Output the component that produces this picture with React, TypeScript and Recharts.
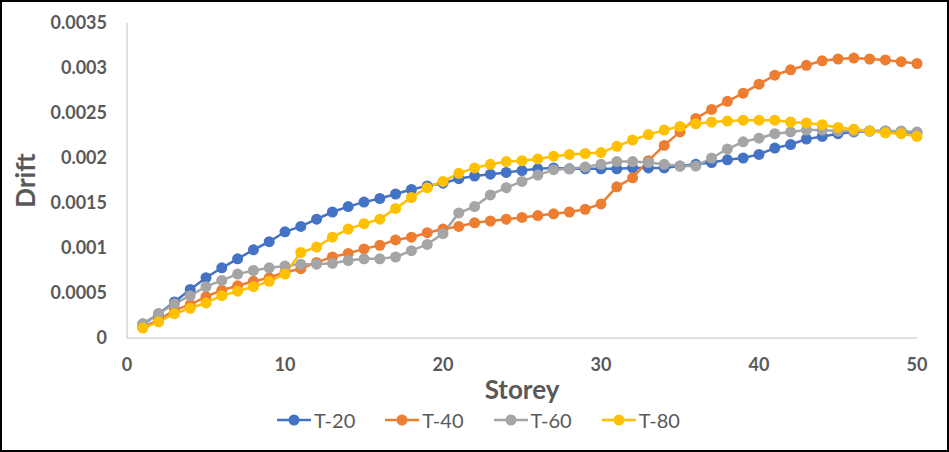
import { Label, Legend, Line, LineChart, XAxis, YAxis } from 'recharts'

// storey numbers 1..50
const storeys = [
    1, 2, 3, 4, 5, 6, 7, 8, 9, 10, 11, 12, 13, 14, 15, 16, 17, 18, 19, 20, 21, 22, 23, 24, 25,
    26, 27, 28, 29, 30, 31, 32, 33, 34, 35, 36, 37, 38, 39, 40, 41, 42, 43, 44, 45, 46, 47, 48, 49, 50,
]

const t20 = [
    0.00015, 0.00027, 0.0004, 0.00054, 0.00067, 0.00078, 0.00088, 0.00098, 0.00107, 0.00118,
    0.00124, 0.00132, 0.0014, 0.00146, 0.00151, 0.00155, 0.0016, 0.00165, 0.00169, 0.00172,
    0.00177, 0.0018, 0.00182, 0.00184, 0.00186, 0.00188, 0.00189, 0.00188, 0.00188, 0.00188,
    0.00188, 0.00189, 0.00189, 0.00189, 0.00191, 0.00193, 0.00195, 0.00198, 0.002, 0.00204,
    0.00211, 0.00215, 0.00221, 0.00224, 0.00227, 0.00229, 0.0023, 0.0023, 0.00229, 0.00228,
]

const t40 = [
    0.00012, 0.0002, 0.00031, 0.00037, 0.00046, 0.00053, 0.00058, 0.00063, 0.00067, 0.00073,
    0.00077, 0.00084, 0.0009, 0.00094, 0.00099, 0.00103, 0.00109, 0.00112, 0.00117, 0.00121,
    0.00124, 0.00128, 0.0013, 0.00132, 0.00134, 0.00136, 0.00138, 0.0014, 0.00143, 0.00149,
    0.00168, 0.00178, 0.00197, 0.00214, 0.00229, 0.00244, 0.00254, 0.00263, 0.00272, 0.00282,
    0.00292, 0.00298, 0.00303, 0.00308, 0.0031, 0.00311, 0.0031, 0.00309, 0.00307, 0.00305,
]

const t60 = [
    0.00016, 0.00027, 0.00038, 0.00047, 0.00057, 0.00064, 0.00071, 0.00075, 0.00078, 0.0008,
    0.00082, 0.00082, 0.00083, 0.00086, 0.00088, 0.00088, 0.0009, 0.00097, 0.00104, 0.00116,
    0.00139, 0.00146, 0.00159, 0.00167, 0.00174, 0.00181, 0.00187, 0.00188, 0.0019, 0.00193,
    0.00196, 0.00196, 0.00195, 0.00193, 0.00191, 0.00191, 0.002, 0.0021, 0.00218, 0.00222,
    0.00227, 0.00229, 0.00231, 0.00231, 0.0023, 0.0023, 0.0023, 0.0023, 0.0023, 0.00229,
]

const t80 = [
    0.00011, 0.00018, 0.00027, 0.00033, 0.00039, 0.00047, 0.00052, 0.00057, 0.00063, 0.00071,
    0.00095, 0.00101, 0.00112, 0.00121, 0.00127, 0.00132, 0.00144, 0.00156, 0.00167, 0.00174,
    0.00183, 0.00189, 0.00193, 0.00196, 0.00197, 0.00199, 0.00202, 0.00204, 0.00205, 0.00206,
    0.00213, 0.0022, 0.00226, 0.00231, 0.00235, 0.00238, 0.0024, 0.00241, 0.00242, 0.00242,
    0.00242, 0.0024, 0.00239, 0.00237, 0.00234, 0.00232, 0.0023, 0.00228, 0.00227, 0.00224,
]

const xTicks = [0, 10, 20, 30, 40, 50]
const yTicks = [0, 0.0005, 0.001, 0.0015, 0.002, 0.0025, 0.003, 0.0035]

const series = [
    { key: 'T-20', values: t20, color: '#4472C4' },
    { key: 'T-40', values: t40, color: '#ED7D31' },
    { key: 'T-60', values: t60, color: '#A5A5A5' },
    { key: 'T-80', values: t80, color: '#FFC000' },
]

const chartData = storeys.map((s, i) => {
    const row: Record<string, number> = { storey: s }
    series.forEach(ser => { row[ser.key] = ser.values[i] })
    return row
})

const FONT = 'Lato, "Open Sans", sans-serif'
const TEXT = '#595959'

// Excel style legend: short line with a filled dot in the middle
function ExcelLegend() {
    return (
        <div style={{ display: 'flex', justifyContent: 'center', gap: 30, fontFamily: FONT, fontSize: 20, color: TEXT, paddingLeft: 40 }}>
            {series.map(s => (
                <div key={s.key} style={{ display: 'flex', alignItems: 'center', gap: 3 }}>
                    <svg width={34} height={14}>
                        <line x1={0} y1={7} x2={34} y2={7} stroke={s.color} strokeWidth={2.5} />
                        <circle cx={17} cy={7} r={5.5} fill={s.color} />
                    </svg>
                    <span>{s.key}</span>
                </div>
            ))}
        </div>
    )
}

export default function App() {
    return (
        <div style={{ position: 'absolute', top: 0, left: 0, width: 949, height: 452, background: '#fff', boxShadow: 'inset 0 0 0 2px #000' }}>
            <LineChart width={949} height={452} data={chartData} margin={{ top: 23, right: 32, left: 0, bottom: 8 }}>
                <XAxis
                    dataKey="storey"
                    type="number"
                    domain={[0, 50]}
                    ticks={xTicks}
                    tickLine={false}
                    tickMargin={14}
                    height={70}
                    stroke="#BFBFBF"
                    tick={{ fill: TEXT, fontSize: 18, fontWeight: 700, fontFamily: FONT }}
                >
                    <Label value="Storey" position="insideBottom" offset={9} fill={TEXT} fontSize={26} fontWeight={700} fontFamily={FONT} />
                </XAxis>
                <YAxis
                    type="number"
                    domain={[0, 0.0035]}
                    ticks={yTicks}
                    tickLine={false}
                    tickMargin={14}
                    width={127}
                    stroke="#BFBFBF"
                    tick={{ fill: TEXT, fontSize: 18, fontWeight: 700, fontFamily: FONT }}
                >
                    <Label
                        content={({ viewBox }: any) => {
                            const cy = viewBox.y + viewBox.height / 2
                            return (
                                <text x={25} y={cy} transform={`rotate(-90 25 ${cy})`} textAnchor="middle" dominantBaseline="central"
                                    fill={TEXT} fontSize={26} fontWeight={700} fontFamily={FONT}>
                                    Drift
                                </text>
                            )
                        }}
                    />
                </YAxis>
                <Legend verticalAlign="bottom" height={36} content={() => <ExcelLegend />} />
                {series.map(s => (
                    <Line
                        key={s.key}
                        dataKey={s.key}
                        stroke={s.color}
                        strokeWidth={2.5}
                        dot={{ r: 5.5, fill: s.color, stroke: 'none' }}
                        activeDot={false}
                        isAnimationActive={false}
                    />
                ))}
            </LineChart>
        </div>
    )
}
